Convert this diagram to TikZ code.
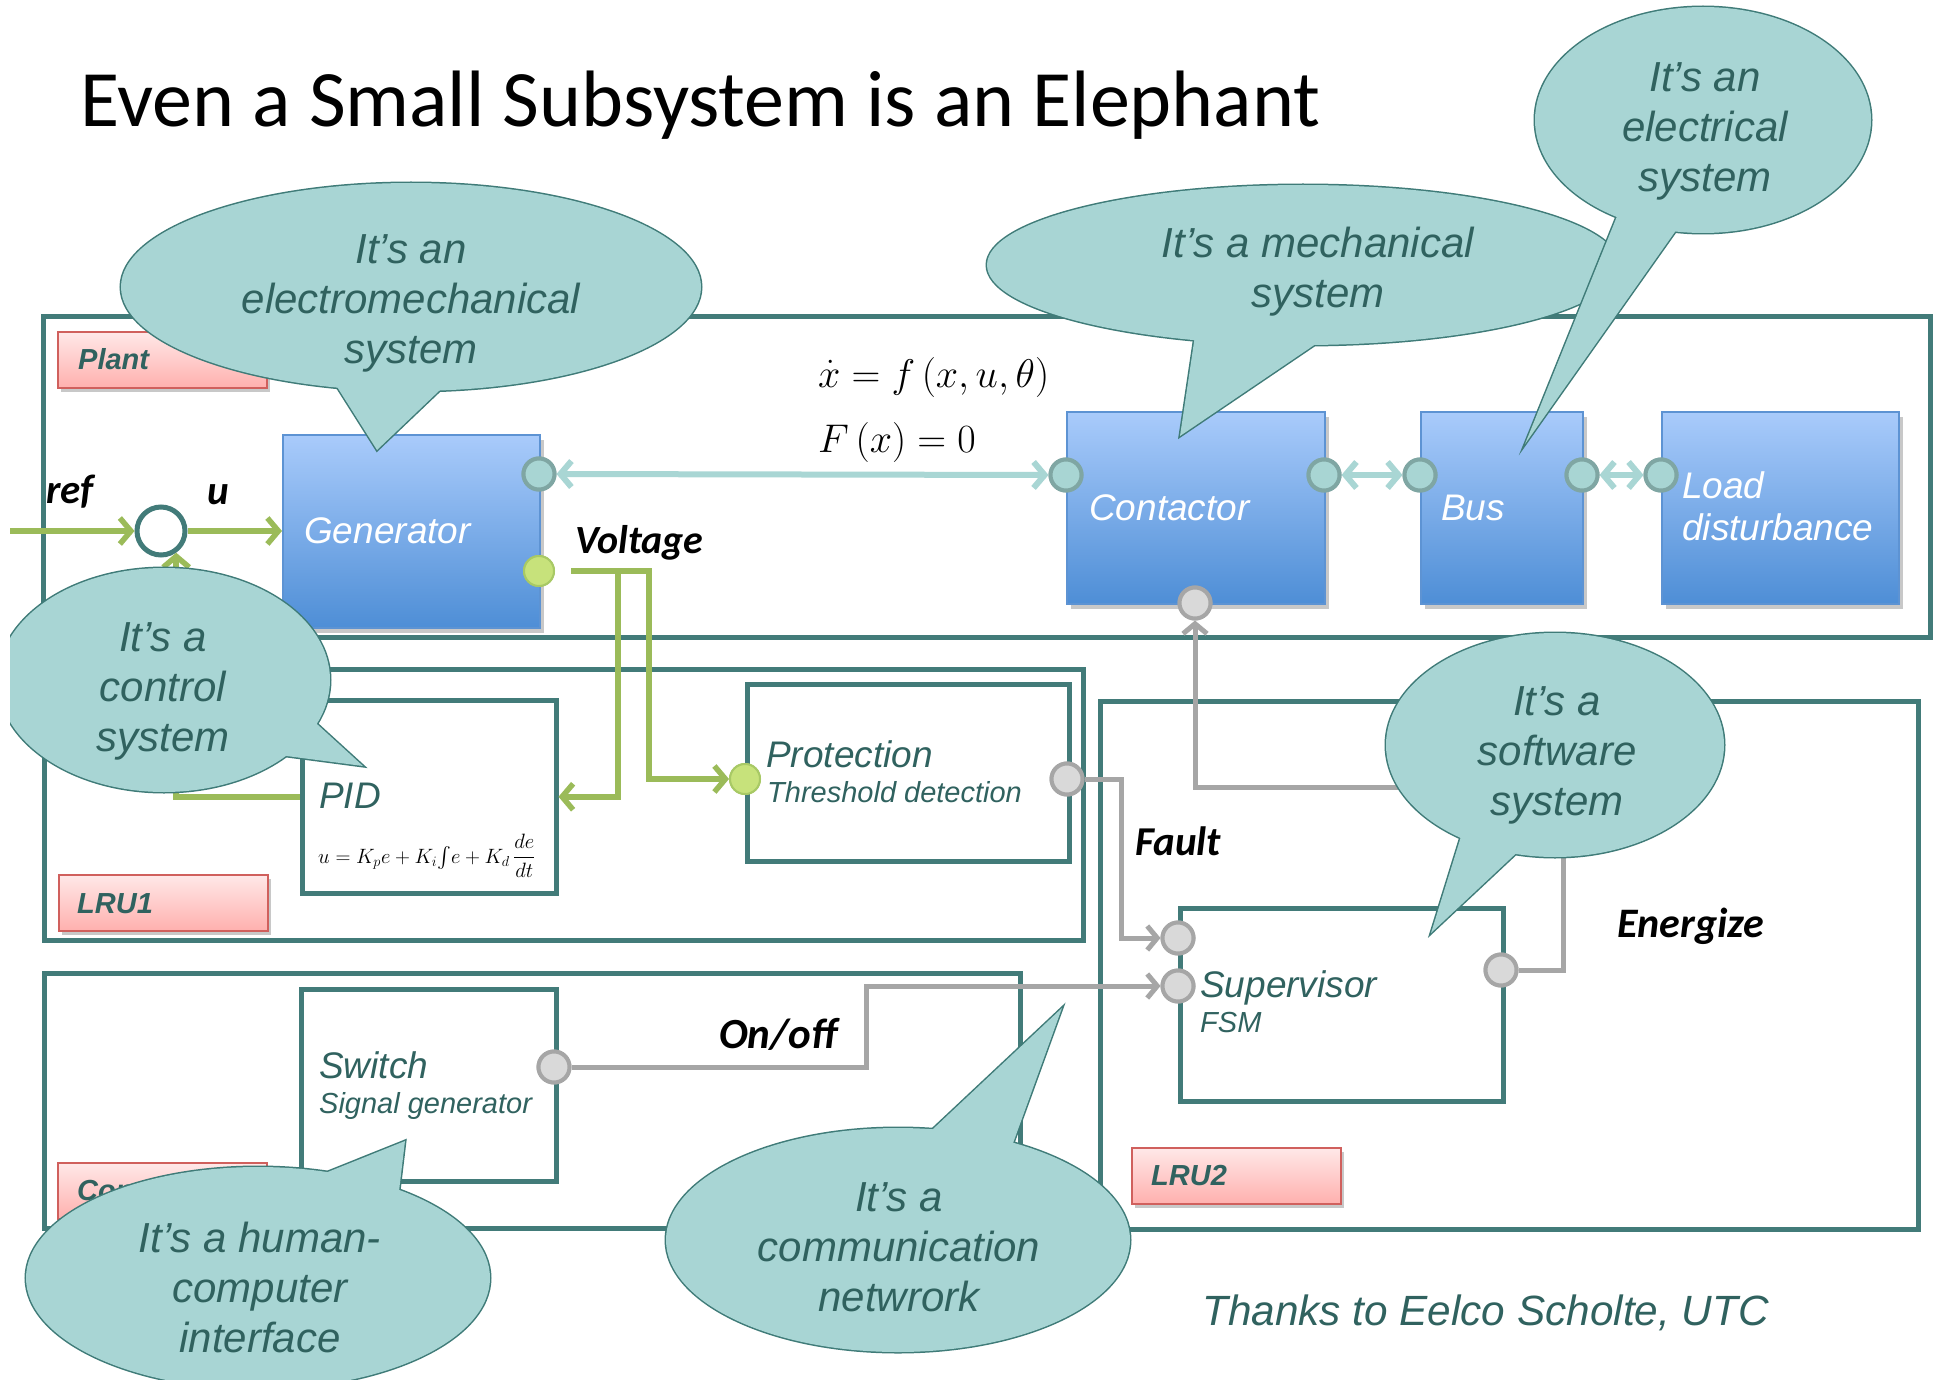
\documentclass[tikz,border=0pt]{standalone}
\usepackage{amsmath}
\usepackage{graphicx}
\usepackage[no-math]{fontspec}
\setmainfont{Liberation Sans}
\newfontfamily\calibrifont{Carlito}
\usetikzlibrary{arrows.meta,shadows,calc}

\definecolor{frameteal}{HTML}{427B79}
\definecolor{bubblefill}{HTML}{A8D5D4}
\definecolor{bubbleline}{HTML}{3F7B78}
\definecolor{textteal}{HTML}{30625F}
\definecolor{blueTop}{HTML}{A9CBFB}
\definecolor{blueBot}{HTML}{4E8ED6}
\definecolor{blueLine}{HTML}{5D93D3}
\definecolor{pinkTop}{HTML}{FFE8E8}
\definecolor{pinkBot}{HTML}{FFB0AE}
\definecolor{pinkLine}{HTML}{D0605D}
\definecolor{sigGreen}{HTML}{9BBB59}
\definecolor{portGreen}{HTML}{C7E27B}
\definecolor{portGreenLine}{HTML}{A8C965}
\definecolor{linkTeal}{HTML}{A9D6D4}
\definecolor{portTeal}{HTML}{A8D5D3}
\definecolor{portTealLine}{HTML}{7FA6A3}
\definecolor{sigGray}{HTML}{A6A6A6}
\definecolor{portGray}{HTML}{D9D9D9}

% speech bubble: #1 centre, #2/#3 radii, #4/#5 angles of the pointer base,
% #6 tip relative to the centre, #7/#8 slightly reduced radii for the base
\newcommand\speechbubble[8]{%
  \begin{scope}[shift={(#1)}]
    \draw[bubbleline, line width=3pt, line join=miter]
      (0,0) ellipse [x radius=#2, y radius=#3]
      (#4:#7 and #8) -- (#6) -- (#5:#7 and #8);
    \fill[bubblefill] (0,0) ellipse [x radius=#2, y radius=#3];
    \fill[bubblefill] (#4:#7 and #8) -- (#6) -- (#5:#7 and #8) -- cycle;
  \end{scope}}

\begin{document}
\begin{tikzpicture}[x=1pt, y=-1pt,
  frame/.style={draw=frameteal, line width=4.5pt, anchor=north west, inner sep=0pt},
  bluebox/.style={draw=blueLine, line width=1.5pt, top color=blueTop, bottom color=blueBot,
    anchor=north west, inner sep=0pt,
    drop shadow={shadow xshift=4pt, shadow yshift=-5pt, opacity=0.3, fill=black!70}},
  pinkbox/.style={draw=pinkLine, line width=1.5pt, top color=pinkTop, bottom color=pinkBot,
    anchor=north west, inner sep=0pt, minimum width=209, minimum height=56,
    drop shadow={shadow xshift=3pt, shadow yshift=-4pt, opacity=0.3, fill=black!70}},
  port/.style={circle, minimum size=31pt, inner sep=0pt, line width=4pt},
  tport/.style={port, fill=portTeal, draw=portTealLine},
  gport/.style={port, fill=portGray, draw=sigGray},
  grport/.style={circle, minimum size=30pt, inner sep=0pt, line width=2pt, fill=portGreen, draw=portGreenLine},
  greenarrow/.style={draw=sigGreen, line width=5.5pt, -{Straight Barb[length=11pt,width=26pt]}},
  tealarrow/.style={draw=linkTeal, line width=6pt,
    {Straight Barb[length=11pt,width=26pt]}-{Straight Barb[length=11pt,width=26pt]}},
  grayarrow/.style={draw=sigGray, line width=5pt, -{Straight Barb[length=10pt,width=24pt]}},
  boxtext/.style={anchor=base west, inner sep=0pt, text=textteal,
    font=\fontsize{37}{44}\selectfont\itshape},
  whitetext/.style={boxtext, text=white},
  smalltext/.style={anchor=base west, inner sep=0pt, text=textteal,
    font=\fontsize{29}{34}\selectfont\itshape},
  lbltext/.style={anchor=base west, inner sep=0pt, text=textteal,
    font=\fontsize{29}{34}\selectfont\bfseries\itshape},
  sigtext/.style={anchor=base west, inner sep=0pt, text=black,
    font=\calibrifont\fontsize{41}{48}\selectfont\bfseries\itshape},
  eqtext/.style={anchor=base west, inner sep=0pt, font=\fontsize{20.74}{24}\selectfont},
  bubbletext/.style={align=center, inner sep=0pt, text=textteal,
    font=\fontsize{42}{50}\selectfont\itshape}]

\fill[white] (0,0) rectangle (1935,1380);
\useasboundingbox (0,0) rectangle (1935,1380);

% title
\node[anchor=base west, inner sep=0pt, font=\calibrifont\fontsize{80}{90}\selectfont]
  (title) at (80,127) {Even a Small Subsystem is an Elephant};

% subsystem frames
\node[frame, minimum width=1887, minimum height=321] (plant) at (41,314) {};
\node[frame, minimum width=1039, minimum height=271] (lru1) at (42,667) {};
\node[frame, minimum width=976, minimum height=255] (console) at (42,971) {};
\node[frame, minimum width=818, minimum height=528] (lru2) at (1098,699) {};

% inner blocks
\node[frame, minimum width=254, minimum height=193] (pid) at (300,698) {};
\node[frame, minimum width=322, minimum height=177] (prot) at (745,682) {};
\node[frame, minimum width=255, minimum height=192] (switch) at (299,987) {};
\node[frame, minimum width=323, minimum height=193] (sup) at (1178,906) {};

% frame labels
\node[pinkbox] (plantlbl) at (57,331) {};
\node[pinkbox] (lru1lbl) at (58,874) {};
\node[pinkbox] (conslbl) at (57,1162) {};
\node[pinkbox] (lru2lbl) at (1131,1147) {};
\node[lbltext] at (78,369) {Plant};
\node[lbltext] at (77,913) {LRU1};
\node[lbltext] at (77,1200) {Control};
\node[lbltext] at (1151,1185) {LRU2};

% physical components
\node[bluebox, minimum width=257, minimum height=193] (gen) at (282,434) {};
\node[bluebox, minimum width=258, minimum height=192] (cont) at (1066,411) {};
\node[bluebox, minimum width=162, minimum height=192] (bus) at (1420,411) {};
\node[bluebox, minimum width=237, minimum height=192] (load) at (1661,411) {};

% summing junction
\node[circle, minimum size=48pt, inner sep=0pt, line width=5pt, draw=frameteal, fill=white]
  (sum) at (161,531) {};
\coordinate (refin) at (10,531);

% ports
\node[tport] (gp1) at (539,474) {};
\node[grport] (gp2) at (539,571) {};
\node[tport] (cp1) at (1066,475) {};
\node[tport] (cp2) at (1324,475) {};
\node[gport] (cp3) at (1195,603) {};
\node[tport] (bp1) at (1420,475) {};
\node[tport] (bp2) at (1582,475) {};
\node[tport] (lp1) at (1661,475) {};
\node[grport] (prg) at (745,779) {};
\node[gport] (prr) at (1067,779) {};
\node[gport] (swp) at (554,1067) {};
\node[gport] (sp1) at (1178,938) {};
\node[gport] (sp2) at (1178,986) {};
\node[gport] (sp3) at (1501,970) {};

% signal connectors
\draw[greenarrow] (refin) -- (sum.west);
\draw[greenarrow] (sum.east) -- (sum.east -| gen.west);
\draw[greenarrow] ([xshift=16pt]gp2.east) -- ++(47,0) |- (pid.east);
\draw[greenarrow] ([xshift=16pt]gp2.east) -- ++(78,0) |- (prg.west);
\draw[greenarrow] (pid.west) -| (sum.-55);
\draw[tealarrow] (gp1.east) -- (cp1.west);
\draw[tealarrow] (cp2.east) -- (bp1.west);
\draw[tealarrow] (bp2.east) -- (lp1.west);
\draw[grayarrow] (prr.east) -- ++(37,0) |- (sp1.west);
\draw[grayarrow] (swp.east) -- ++(295,0) |- (sp2.west);
\draw[grayarrow] (sp3.east) -| ++(45,-183) -| (cp3.south);

% ports drawn again above the connectors
\node[tport] at (gp1) {};
\node[grport] at (gp2) {};
\node[tport] at (cp1) {};
\node[tport] at (cp2) {};
\node[gport] at (cp3) {};
\node[tport] at (bp1) {};
\node[tport] at (bp2) {};
\node[tport] at (lp1) {};
\node[grport] at (prg) {};
\node[gport] at (prr) {};
\node[gport] at (swp) {};
\node[gport] at (sp1) {};
\node[gport] at (sp2) {};
\node[gport] at (sp3) {};

% block texts
\node[whitetext] at (304,543) {Generator};
\node[whitetext] at (1089,520) {Contactor};
\node[whitetext] at (1441,520) {Bus};
\node[whitetext] at (1682,498) {Load};
\node[whitetext] at (1682,540) {disturbance};
\node[boxtext] at (319,808) {PID};
\node[eqtext] at (318,863)
  {$u = K_p e + K_i {\textstyle\int} e + K_d \,\dfrac{de}{dt}$};
\node[boxtext] at (766,767) {Protection};
\node[smalltext] at (767,802) {Threshold detection};
\node[boxtext] at (319,1078) {Switch};
\node[smalltext] at (319,1113) {Signal generator};
\node[boxtext] at (1200,997) {Supervisor};
\node[smalltext] at (1200,1032) {FSM};

% equations of the plant
\node[eqtext] (stateq) at (818,387) {\scalebox{1.93}{$\dot{x} = f\,(x,u,\theta)$}};
\node[eqtext] (consteq) at (818,452) {\scalebox{1.93}{$F\,(x) = 0$}};

% signal names
\node[sigtext] at (46,503) {ref};
\node[sigtext] at (207,504) {u};
\node[sigtext, font=\calibrifont\fontsize{40}{48}\selectfont\bfseries\itshape] at (575,553) {Voltage};
\node[sigtext] at (1135,855) {Fault};
\node[sigtext, font=\calibrifont\fontsize{43}{48}\selectfont\bfseries\itshape] at (719,1048) {On/off};
\node[sigtext, font=\calibrifont\fontsize{42}{48}\selectfont\bfseries\itshape] at (1617,937) {Energize};

% credit
\node[anchor=base west, inner sep=0pt, text=textteal, font=\fontsize{42.3}{48}\selectfont\itshape]
  at (1202,1325) {Thanks to Eelco Scholte, UTC};

% speech bubbles
\speechbubble{1303,265}{316}{80}{110.7}{87.2}{-123,171}{306.5}{77.6}
\node[bubbletext] at (1318,272) {It’s a mechanical\\system};

\speechbubble{1703,120}{168}{113}{121.4}{99}{-178,324}{163}{109.6}
\node[bubbletext] at (1705,131) {It’s an\\electrical\\system};

\speechbubble{411,287}{290}{104}{105.6}{83.5}{-34,163}{281}{101}
\node[bubbletext] at (411,303) {It’s an\\electromechanical\\system};

\begin{scope}
  \clip (10,0) rectangle (1935,1380);
  \speechbubble{164,680}{166}{112}{22}{43.8}{199,86}{161}{108.6}
\end{scope}
\node[bubbletext] at (163,691) {It’s a\\control\\system};

\speechbubble{1555,745}{169}{112}{124.7}{102.8}{-124,188}{164}{108.6}
\node[bubbletext] at (1557,755) {It’s a\\software\\system};

\speechbubble{258,1278}{232}{111}{-73.7}{-51.3}{147,-137}{225}{107.7}
\node[bubbletext] at (260,1287) {It’s a human-\\computer\\interface};

\speechbubble{898,1240}{232}{112}{-82}{-59.6}{164,-232}{225}{108.6}
\node[bubbletext] at (899,1247) {It’s a\\communication\\netwrork};

\end{tikzpicture}
\end{document}
